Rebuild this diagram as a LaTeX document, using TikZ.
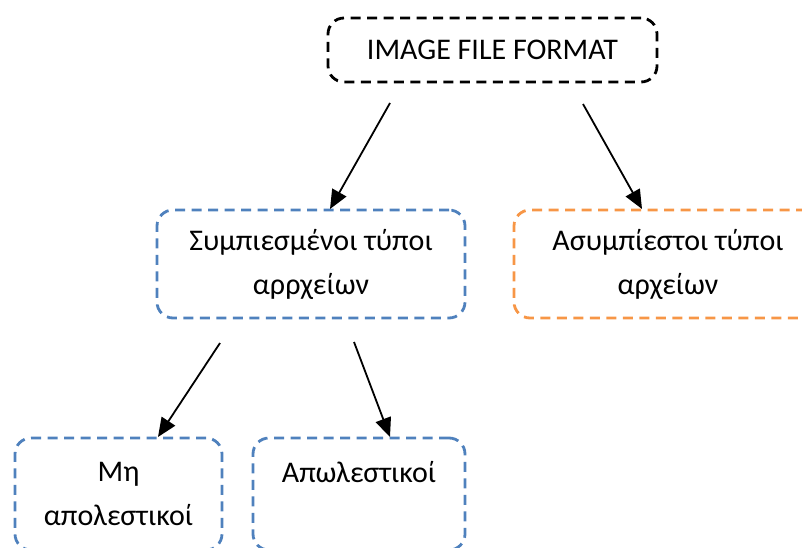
\documentclass[tikz,border=0pt]{standalone}
\usepackage{fontspec}
\setmainfont{Carlito}
\usetikzlibrary{arrows.meta}
\definecolor{boxblue}{HTML}{4F81BD}
\definecolor{boxorange}{HTML}{F79646}
\tikzset{
  dbox/.style={draw, line width=2.8pt, dash pattern=on 10pt off 6.5pt, rounded corners=16pt,
    align=center, font=\fontsize{30}{44}\selectfont, inner sep=0pt},
  conn/.style={line width=1.8pt, -{Triangle[length=19pt,width=16pt]}}
}
\begin{document}
\begin{tikzpicture}[x=1pt,y=-1pt]
\clip (0,0) rectangle (802,548);
\node[dbox, draw=black, minimum width=329pt, minimum height=64pt] (top) at (492.5,50) {IMAGE FILE FORMAT};
\node[dbox, draw=boxblue, minimum width=308pt, minimum height=108pt] (comp) at (311,264) {Συμπιεσμένοι τύποι\\αρρχείων};
\node[dbox, draw=boxorange, minimum width=308pt, minimum height=108pt] (uncomp) at (668,264) {Ασυμπίεστοι τύποι\\αρχείων};
\node[dbox, draw=boxblue, minimum width=207pt, minimum height=112pt] (lossless) at (118.5,494) {Μη\\απολεστικοί};
\node[dbox, draw=boxblue, minimum width=212pt, minimum height=112pt] (lossy) at (359,494) {Απωλεστικοί\\~};
\coordinate (s1) at (390,103);
\coordinate (e1) at (330,209);
\coordinate (s2) at (583,104);
\coordinate (e2) at (642,209);
\coordinate (s3) at (220,343);
\coordinate (e3) at (158,437);
\coordinate (s4) at (354,342);
\coordinate (e4) at (390,437);
\draw[conn] (s1) -- (e1);
\draw[conn] (s2) -- (e2);
\draw[conn] (s3) -- (e3);
\draw[conn] (s4) -- (e4);
\end{tikzpicture}
\end{document}
